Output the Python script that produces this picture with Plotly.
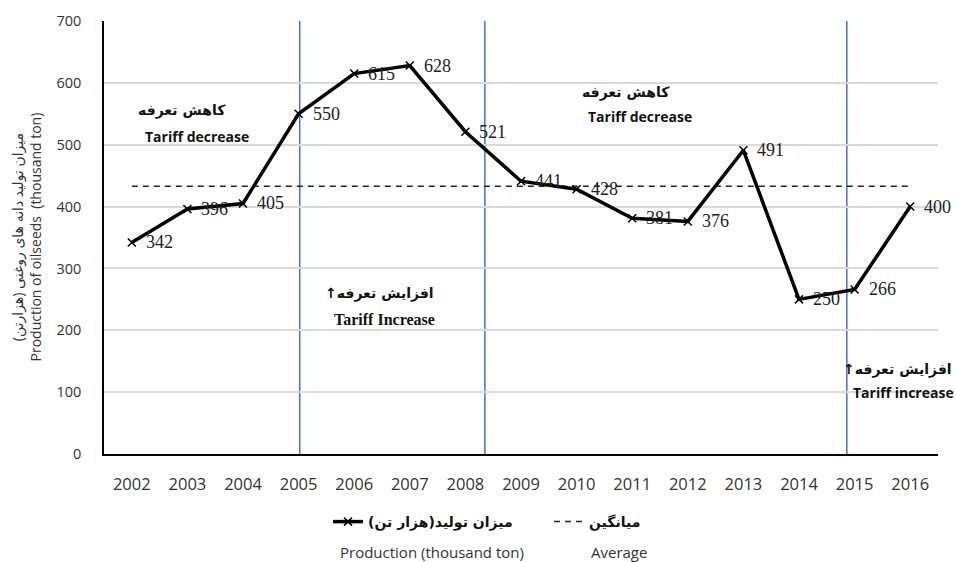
import plotly.graph_objects as go

years = [2002, 2003, 2004, 2005, 2006, 2007, 2008, 2009, 2010, 2011, 2012, 2013, 2014, 2015, 2016]
production = [342, 396, 405, 550, 615, 628, 521, 441, 428, 381, 376, 491, 250, 266, 400]
average = [433, 433, 433, 433, 433, 433, 433, 433, 433, 433, 433, 433, 433, 433, 433]
policy_lines = [2005.02, 2008.35, 2014.86]

prod_name = "میزان تولید(هزار تن)"
avg_name = "میانگین"

fig = go.Figure()
fig.add_trace(go.Scatter(
    x=years, y=average, mode="lines", name=avg_name,
    line=dict(color="#222222", width=1.5, dash="6px,5px"),
))
fig.add_trace(go.Scatter(
    x=years, y=production, mode="lines+markers", name=prod_name,
    line=dict(color="black", width=3.5),
    marker=dict(symbol="x-thin", size=8, line=dict(color="black", width=1.5), color="black"),
))

for xv in policy_lines:
    fig.add_shape(type="line", x0=xv, x1=xv, y0=0, y1=1, xref="x", yref="paper",
                  line=dict(color="#4472C4", width=1.5), layer="below")

# data labels
for xv, yv in zip(years, production):
    fig.add_annotation(x=xv, y=yv, text=str(yv), showarrow=False, xanchor="left",
                       xshift=12, font=dict(family="Liberation Serif", size=18, color="#222"))

bold_sans = dict(family="Open Sans, DejaVu Sans", size=14, color="#111", weight="bold")
bold_serif = dict(family="Liberation Serif", size=16, color="#111", weight="bold")
fa_font = dict(family="DejaVu Sans", size=14, color="#111", weight="bold")

notes = [
    (2002.9, 556, "کاهش تعرفه", fa_font),
    (2003.17, 514, "Tariff decrease", bold_sans),
    (2006.46, 260, "↑افزایش تعرفه", fa_font),
    (2006.55, 217, "Tariff Increase", bold_serif),
    (2010.88, 585, "کاهش تعرفه", fa_font),
    (2011.14, 545, "Tariff decrease", bold_sans),
    (2015.88, 99, "Tariff increase", bold_sans),
]
for xv, yv, t, f in notes:
    fig.add_annotation(x=xv, y=yv, text=t, showarrow=False, font=f)

# annotation near the right edge (paper coords so it is not hidden)
fig.add_annotation(x=(954 - 104) / 834, y=(454 - 369) / 433, xref="paper", yref="paper",
                   text="↑افزایش تعرفه", showarrow=False, font=fa_font,
                   xanchor="right", yanchor="middle")

# y axis title
fig.add_annotation(
    x=(26 - 104) / 834, y=0.5, xref="paper", yref="paper", textangle=-90,
    text="میزان تولید دانه های روغنی (هزارتن)<br>Production of oilseeds  (thousand ton)",
    showarrow=False, xanchor="center", yanchor="middle",
    font=dict(family="Open Sans, DejaVu Sans", size=14, color="#333"),
)

# legend english captions
fig.add_annotation(x=(432 - 104) / 834, y=(454 - 552) / 433, xref="paper", yref="paper",
                   text="Production (thousand ton)", showarrow=False, yanchor="middle",
                   font=dict(family="Open Sans", size=15, color="#333"))
fig.add_annotation(x=(619 - 104) / 834, y=(454 - 552) / 433, xref="paper", yref="paper",
                   text="Average", showarrow=False, yanchor="middle",
                   font=dict(family="Open Sans", size=15, color="#333"))

fig.update_layout(
    width=956, height=562,
    margin=dict(l=104, r=18, t=21, b=108),
    paper_bgcolor="white", plot_bgcolor="white",
    showlegend=True,
    legend=dict(orientation="h", x=(328 - 104) / 834, y=(454 - 522) / 433,
                xanchor="left", yanchor="middle", traceorder="reversed",
                entrywidth=176, entrywidthmode="pixels",
                font=dict(family="DejaVu Sans", size=14, color="#111", weight="bold"),
                bgcolor="rgba(0,0,0,0)"),
    xaxis=dict(range=[2001.5, 2016.5], tickvals=years, ticktext=[str(y) for y in years],
               showgrid=False, zeroline=False, showline=True, linecolor="black", linewidth=1.5,
               ticks="", ticklabelstandoff=14,
               tickfont=dict(family="Open Sans", size=16.5, color="#333")),
    yaxis=dict(range=[0, 700], dtick=100, showgrid=True, gridcolor="#d9d9d9", gridwidth=1.5,
               zeroline=False, showline=True, linecolor="black", linewidth=1.5,
               ticks="", ticklabelstandoff=18,
               tickfont=dict(family="Open Sans", size=14.5, color="#333")),
)

fig.write_html(
    "out.html",
    config={"displayModeBar": False},
    post_script="document.body.style.margin='0';document.body.style.overflow='hidden';",
)
